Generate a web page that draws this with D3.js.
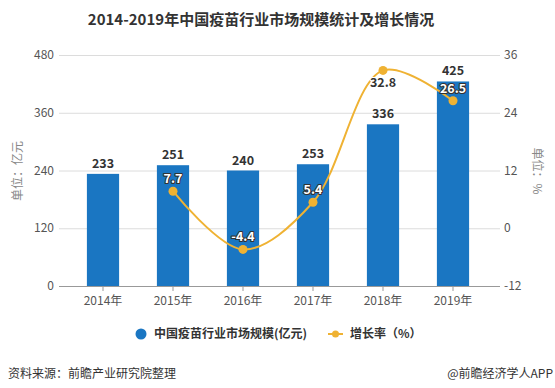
<!DOCTYPE html>
<html>
<head>
<meta charset="utf-8">
<script src="https://d3js.org/d3.v7.min.js"></script>
<style>
  html, body { margin: 0; padding: 0; background: #fff; }
  body { width: 555px; height: 388px; overflow: hidden; font-family: "Noto Sans CJK SC", "Noto Sans", sans-serif; }
  .tick text { font-family: "Noto Sans CJK SC", sans-serif; }
</style>
</head>
<body>
<div id="chart"></div>
<script>
  // data
  var years = ["2014年", "2015年", "2016年", "2017年", "2018年", "2019年"];
  var marketSize = [233, 251, 240, 253, 336, 425];
  var growthRate = [null, 7.7, -4.4, 5.4, 32.8, 26.5];
  var leftTicks = [0, 120, 240, 360, 480];
  var rightTicks = [-12, 0, 12, 24, 36];

  var barColor = "#1a76c2";
  var lineColor = "#efb233";
  var W = 555, H = 388;

  var svg = d3.select("#chart").append("svg")
      .attr("width", W)
      .attr("height", H);

  var x = d3.scaleBand().domain(years).range([68, 488]).paddingInner(0.54).paddingOuter(0.27);
  var yL = d3.scaleLinear().domain([0, 480]).range([286, 55]);
  var yR = d3.scaleLinear().domain([-12, 36]).range([286, 55]);
  var cx = function(d){ return x(d) + x.bandwidth() / 2; };

  // title
  svg.append("text")
      .attr("x", 261).attr("y", 25)
      .attr("text-anchor", "middle")
      .style("font-size", "15px").style("font-weight", "bold").style("fill", "#333")
      .text("2014-2019年中国疫苗行业市场规模统计及增长情况");

  // gridlines
  svg.append("g").selectAll("line")
      .data(leftTicks.filter(function(t){ return t !== 0; }))
      .enter().append("line")
      .attr("x1", 59).attr("x2", 500)
      .attr("y1", function(d){ return yL(d) + 0.5; })
      .attr("y2", function(d){ return yL(d) + 0.5; })
      .attr("stroke", "#dcdcdc");

  // left axis labels
  svg.append("g").selectAll("text")
      .data(leftTicks).enter().append("text")
      .attr("x", 54).attr("y", function(d){ return yL(d); })
      .attr("dy", "0.35em").attr("text-anchor", "end")
      .style("font-size", "12px").style("fill", "#555")
      .text(function(d){ return d; });

  // right axis labels
  svg.append("g").selectAll("text")
      .data(rightTicks).enter().append("text")
      .attr("x", 504).attr("y", function(d){ return yR(d); })
      .attr("dy", "0.35em").attr("text-anchor", "start")
      .style("font-size", "12px").style("fill", "#555")
      .text(function(d){ return d; });

  // axis titles
  svg.append("text")
      .attr("transform", "translate(22,171) rotate(-90)")
      .attr("text-anchor", "middle")
      .style("font-size", "12px").style("fill", "#888")
      .text("单位：亿元");
  svg.append("text")
      .attr("transform", "translate(533,171) rotate(90)")
      .attr("text-anchor", "middle")
      .style("font-size", "12px").style("fill", "#888")
      .text("单位：%");

  // bars
  svg.append("g").selectAll("rect")
      .data(marketSize).enter().append("rect")
      .attr("x", function(d, i){ return x(years[i]); })
      .attr("y", function(d){ return yL(d); })
      .attr("width", x.bandwidth())
      .attr("height", function(d){ return yL(0) - yL(d); })
      .attr("fill", barColor);

  // bottom axis
  var xAxis = d3.axisBottom(x).tickSize(5).tickSizeOuter(0);
  var gx = svg.append("g")
      .attr("transform", "translate(0," + yL(0) + ")")
      .call(xAxis);
  gx.select(".domain").attr("d", "M59,0.5H500").attr("stroke", "#999");
  gx.selectAll(".tick line").attr("stroke", "#999");
  gx.selectAll(".tick text").attr("dy", "0.9em")
      .style("font-size", "12px").style("fill", "#555");

  // bar value labels
  svg.append("g").selectAll("text")
      .data(marketSize).enter().append("text")
      .attr("x", function(d, i){ return cx(years[i]); })
      .attr("y", function(d){ return yL(d) - 6; })
      .attr("text-anchor", "middle")
      .style("font-size", "12.5px").style("font-weight", "bold").style("fill", "#333")
      .text(function(d){ return d; });

  // growth line
  var pts = growthRate.map(function(v, i){ return {year: years[i], v: v, i: i}; })
      .filter(function(d){ return d.v !== null; });
  var line = d3.line()
      .x(function(d){ return cx(d.year); })
      .y(function(d){ return yR(d.v); })
      .curve(d3.curveCatmullRom.alpha(0.5));
  svg.append("path").datum(pts)
      .attr("d", line)
      .attr("fill", "none")
      .attr("stroke", lineColor)
      .attr("stroke-width", 2);
  svg.append("g").selectAll("circle")
      .data(pts).enter().append("circle")
      .attr("cx", function(d){ return cx(d.year); })
      .attr("cy", function(d){ return yR(d.v); })
      .attr("r", 4.5)
      .attr("fill", lineColor);

  var maxV = d3.max(pts, function(d){ return d.v; });
  var labelY = function(d){ return d.v === maxV ? yR(d.v) + 17 : yR(d.v) - 8; };
  // labels sitting over a bar get white text with a dark edge, others dark text
  var onBar = function(d){ return labelY(d) - 6 > yL(marketSize[d.i]); };
  svg.append("g").selectAll("text")
      .data(pts).enter().append("text")
      .attr("x", function(d){ return cx(d.year); })
      .attr("y", labelY)
      .attr("text-anchor", "middle")
      .style("font-size", "12.5px").style("font-weight", "bold")
      .style("fill", function(d){ return onBar(d) ? "#fff" : "#333"; })
      .style("stroke", function(d){ return onBar(d) ? "#333" : "#fff"; })
      .style("stroke-width", 2.2)
      .style("paint-order", "stroke").style("stroke-linejoin", "round")
      .text(function(d){ return d.v; });

  // legend
  var lg = svg.append("g");
  lg.append("circle").attr("cx", 141).attr("cy", 334).attr("r", 5.5).attr("fill", barColor);
  lg.append("text").attr("x", 154).attr("y", 338)
      .style("font-size", "12px").style("font-weight", "bold").style("fill", "#333")
      .text("中国疫苗行业市场规模(亿元)");
  lg.append("line").attr("x1", 328).attr("x2", 343).attr("y1", 334).attr("y2", 334)
      .attr("stroke", lineColor).attr("stroke-width", 2);
  lg.append("circle").attr("cx", 335.5).attr("cy", 334).attr("r", 3.5).attr("fill", lineColor);
  lg.append("text").attr("x", 350).attr("y", 338)
      .style("font-size", "12px").style("font-weight", "bold").style("fill", "#333")
      .text("增长率（%）");

  // footer
  svg.append("text").attr("x", 8).attr("y", 378)
      .style("font-size", "12px").style("fill", "#333")
      .text("资料来源：前瞻产业研究院整理");
  svg.append("text").attr("x", 553).attr("y", 378)
      .attr("text-anchor", "end")
      .style("font-size", "12px").style("fill", "#333")
      .text("@前瞻经济学人APP");
</script>
</body>
</html>
